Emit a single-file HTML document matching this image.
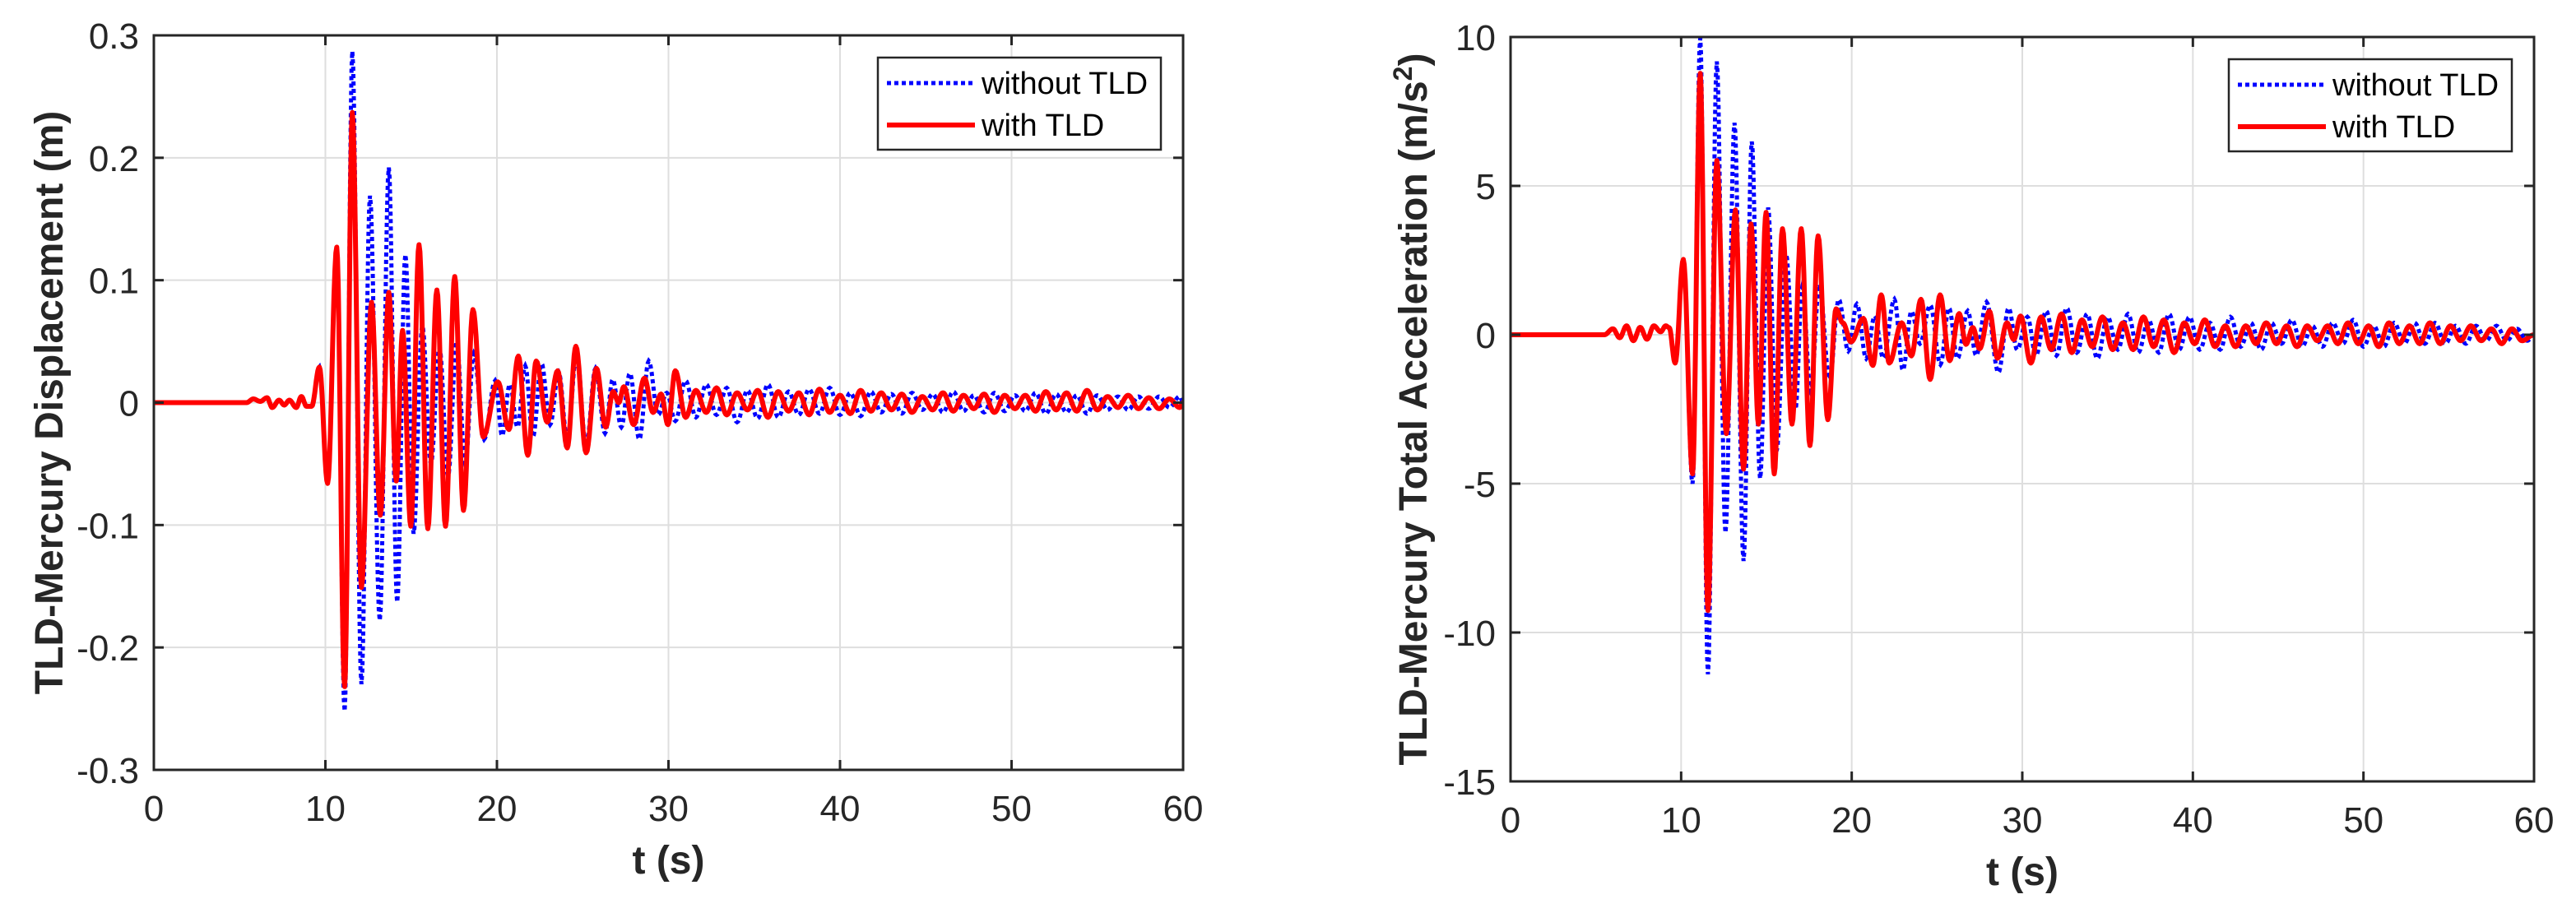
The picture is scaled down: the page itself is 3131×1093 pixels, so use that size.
<!DOCTYPE html>
<html><head><meta charset="utf-8">
<style>
html,body{margin:0;padding:0;background:#fff;}
svg{display:block;font-family:"Liberation Sans",Arial,sans-serif;}
</style></head>
<body>
<svg id="fig" width="3131" height="1093" viewBox="0 0 3131 1093" xmlns="http://www.w3.org/2000/svg"></svg>
<script>
// ---------- DATA: left panel (displacement, m) ----------
const leftXTicks = [0,10,20,30,40,50,60];
const leftYTicks = [-0.3,-0.2,-0.1,0,0.1,0.2,0.3];
const leftYTickLabels = ["-0.3","-0.2","-0.1","0","0.1","0.2","0.3"];
const leftRedT = [0,5.4,5.8,6.2,6.6,6.9,7.3,7.6,7.9,8.3,8.6,8.9,9.2,9.65,10.13,10.66,11.12,11.57,12.1,12.69,13.2,13.7,14.13,14.5,14.98,15.46,15.97,16.5,17.0,17.54,18.05,18.6,19.2,20.05,20.7,21.25,21.8,22.29,22.93,23.54,24.1,24.6,25.2,25.8,26.34,26.77,27.1,27.4,27.97,28.6,29.1,29.57,29.97,30.4];
const leftRedV = [0,0,0.003,0.001,0.004,-0.004,0.002,-0.002,0.002,-0.004,0.005,-0.003,-0.003,0.029,-0.066,0.127,-0.232,0.237,-0.151,0.082,-0.092,0.09,-0.064,0.059,-0.101,0.129,-0.103,0.092,-0.101,0.103,-0.088,0.076,-0.028,0.017,-0.022,0.038,-0.043,0.034,-0.016,0.026,-0.037,0.046,-0.041,0.028,-0.02,0.009,0,0.013,-0.018,0.02,-0.008,0.007,-0.018,0.026];
const leftRedTail = [-0.012,0.010,-0.008,0.012,-0.010,0.008,-0.006,0.010,-0.012,0.009,-0.007,0.008,-0.010,0.011,-0.008,0.006,-0.009,0.010,-0.007,0.008,-0.006,0.007,-0.008,0.005,-0.006,0.008,-0.007,0.006,-0.005,0.007,-0.008,0.006,-0.005,0.006,-0.007,0.009,-0.006,0.008,-0.007,0.010,-0.006,0.005,-0.004,0.006,-0.005,0.004,-0.005,0.003,-0.004,0.004];
const leftBlueT = [0,5.4,5.8,6.2,6.6,6.9,7.3,7.6,7.9,8.3,8.6,8.9,9.2,9.65,10.13,10.66,11.12,11.57,12.1,12.6,13.17,13.7,14.18,14.66,15.14,15.65,16.15,16.65,17.15,17.65,18.15,18.65,19.25,19.9,20.3,20.75,21.2,21.65,22.1,22.6,23.1,23.6,24.1,24.65,25.2,25.75,26.3,26.75,27.25,27.75,28.3,28.85,29.4,29.9,30.4];
const leftBlueV = [0,0,0.003,0.001,0.004,-0.004,0.002,-0.002,0.002,-0.004,0.005,-0.003,-0.003,0.029,-0.066,0.127,-0.252,0.287,-0.23,0.169,-0.178,0.192,-0.163,0.121,-0.107,0.063,-0.05,0.045,-0.06,0.05,-0.05,0.04,-0.03,0.018,-0.027,0.015,-0.02,0.03,-0.028,0.032,-0.018,0.025,-0.03,0.04,-0.035,0.028,-0.025,0.019,-0.02,0.024,-0.03,0.034,-0.01,0.008,-0.015];
const leftBlueTail = [0.018,-0.012,0.015,-0.010,0.012,-0.016,0.010,-0.013,0.015,-0.012,0.009,-0.010,0.011,-0.009,0.012,-0.010,0.008,-0.011,0.009,-0.008,0.007,-0.009,0.008,-0.006,0.007,-0.008,0.009,-0.007,0.006,-0.008,0.008,-0.007,0.006,-0.007,0.008,-0.009,0.007,-0.008,0.006,-0.009,0.006,-0.006,0.005,-0.006,0.005,-0.005,0.005,-0.004,0.005,-0.004];

// ---------- DATA: right panel (total acceleration, m/s^2) ----------
const rightXTicks = [0,10,20,30,40,50,60];
const rightYTicks = [-15,-10,-5,0,5,10];
const rightYTickLabels = ["-15","-10","-5","0","5","10"];
const rightRedT = [0,5.5,6.0,6.4,6.8,7.2,7.6,8.0,8.4,8.8,9.1,9.3,9.65,10.13,10.67,11.12,11.57,12.09,12.65,13.18,13.66,14.1,14.53,14.98,15.46,15.94,16.5,17.04,17.55,18.03,18.6,19.08,19.48,19.96,20.68,21.24,21.73,22.2,22.93,23.5,24.06,24.6,25.18,25.74,26.3,26.7,27.1,27.5,28.07,28.55,29.1,29.5,29.9,30.5];
const rightRedV = [0,0,0.2,-0.1,0.3,-0.2,0.25,-0.15,0.3,0.1,0.3,0.24,-0.95,2.53,-4.67,8.78,-9.26,5.85,-3.32,4.19,-4.51,3.72,-3.0,4.11,-4.67,3.56,-3.0,3.56,-3.72,3.32,-2.85,0.87,0.4,-0.24,0.55,-1.03,1.34,-0.95,0.4,-0.71,1.19,-1.5,1.34,-0.87,0.71,-0.32,0.24,-0.47,0.79,-0.79,0.4,-0.16,0.63,-0.95];
const rightRedTail = [0.6,-0.5,0.7,-0.6,0.5,-0.4,0.6,-0.5,0.4,-0.5,0.6,-0.4,0.5,-0.6,0.4,-0.3,0.5,-0.4,0.3,-0.4,0.3,-0.3,0.4,-0.3,0.3,-0.4,0.3,-0.2,0.3,-0.3,0.4,-0.3,0.3,-0.4,0.4,-0.3,0.3,-0.3,0.4,-0.3,0.3,-0.2,0.3,-0.2,0.2,-0.3,0.2,-0.2,0.2,-0.2];
const rightBlueT = [0,5.5,6.0,6.4,6.8,7.2,7.6,8.0,8.4,8.8,9.1,9.3,9.65,10.13,10.67,11.12,11.57,12.09,12.6,13.13,13.66,14.14,14.63,15.1,15.6,16.15,16.7,17.1,17.6,18.1,18.7,19.24,19.8,20.3,20.85,21.35,21.85,22.5,23.0,23.5,24.0,24.6,25.2,25.7,26.2,26.8,27.3,27.9,28.6,29.2,29.7,30.3,30.8];
const rightBlueV = [0,0,0.2,-0.1,0.3,-0.2,0.25,-0.15,0.3,0.1,0.3,0.24,-0.95,2.53,-5.0,9.97,-11.4,9.18,-6.65,7.12,-7.6,6.49,-4.83,4.27,-3.9,2.7,-2.5,1.6,-1.9,1.7,-1.5,1.19,-0.55,1.03,-0.8,0.63,-0.79,1.19,-1.19,0.79,-0.3,1.0,-1.0,0.9,-0.8,0.8,-0.7,1.1,-1.27,0.9,-0.5,0.6,-0.7];
const rightBlueTail = [0.8,-0.7,0.9,-0.6,0.7,-0.8,0.6,-0.5,0.7,-0.6,0.5,-0.6,0.7,-0.5,0.6,-0.5,0.4,-0.5,0.6,-0.4,0.4,-0.5,0.4,-0.3,0.5,-0.4,0.3,-0.4,0.4,-0.3,0.5,-0.4,0.3,-0.4,0.4,-0.3,0.4,-0.3,0.4,-0.3,0.3,-0.3,0.3,-0.2,0.3,-0.2,0.2,-0.2,0.2,-0.2];
const legendLabels = ["without TLD","with TLD"];

const NS = "http://www.w3.org/2000/svg";
const svg = document.getElementById('fig');
function mk(tag, attrs, parent){
  const e = document.createElementNS(NS, tag);
  for (const k in attrs) e.setAttribute(k, attrs[k]);
  (parent||svg).appendChild(e);
  return e;
}
function withTail(T, V, tail, start, step){
  const t = T.slice(), v = V.slice();
  for (let i=0;i<tail.length;i++){
    const tt = start+i*step;
    if (tt >= 59.9) break;
    t.push(tt); v.push(tail[i]);
  }
  t.push(60); v.push(0);
  return [t, v];
}
function pathFrom(T, V, sx, sy){
  let d = "M"+sx(T[0]).toFixed(1)+","+sy(V[0]).toFixed(1);
  for (let i=1;i<T.length;i++){
    const t0=T[i-1], t1=T[i], v0=V[i-1], v1=V[i];
    const n = 10;
    for (let k=1;k<=n;k++){
      const s=k/n, t=t0+(t1-t0)*s, v=v0+(v1-v0)*(1-Math.cos(Math.PI*s))/2;
      d += "L"+sx(t).toFixed(1)+","+sy(v).toFixed(1);
    }
  }
  return d;
}

function panel(cfg){
  const g = mk('g', {});
  
  
  const {x0,x1,y0,y1,ymin,ymax} = cfg;
  const sx = t => x0 + (t-0)/(60-0)*(x1-x0);
  const sy = v => y1 - (v-ymin)/(ymax-ymin)*(y1-y0);
  const grid = mk('g', {stroke:'#dedede','stroke-width':2}, g);
  
  
  cfg.xt.forEach(t=>{ mk('line',{x1:sx(t),x2:sx(t),y1:y0,y2:y1},grid); });
  cfg.yt.forEach(v=>{ mk('line',{x1:x0,x2:x1,y1:sy(v),y2:sy(v)},grid); });
  const clip = mk('clipPath',{id:cfg.name+'-clip'}, g);
  mk('rect',{x:x0,y:y0-4,width:x1-x0,height:y1-y0+8},clip);
  const b = withTail(cfg.blueT, cfg.blueV, cfg.blueTail, cfg.blueTailStart, 0.6);
  const r = withTail(cfg.redT, cfg.redV, cfg.redTail, cfg.redTailStart, 0.6);
  const bl = mk('path',{d:pathFrom(b[0],b[1],sx,sy),fill:'none',stroke:'#0000ff','stroke-width':5,'stroke-dasharray':'5 4','clip-path':'url(#'+cfg.name+'-clip)'}, g);
  
  
  const rl = mk('path',{d:pathFrom(r[0],r[1],sx,sy),fill:'none',stroke:'#ff0000','stroke-width':6,'stroke-linejoin':'round','clip-path':'url(#'+cfg.name+'-clip)'}, g);
  
  
  const ax = mk('g',{stroke:'#262626','stroke-width':3,fill:'none'}, g);
  
  
  mk('rect',{x:x0,y:y0,width:x1-x0,height:y1-y0},ax);
  cfg.xt.forEach(t=>{
    mk('line',{x1:sx(t),x2:sx(t),y1:y1,y2:y1-12},ax);
    mk('line',{x1:sx(t),x2:sx(t),y1:y0,y2:y0+12},ax);
  });
  cfg.yt.forEach(v=>{
    mk('line',{x1:x0,x2:x0+12,y1:sy(v),y2:sy(v)},ax);
    mk('line',{x1:x1,x2:x1-12,y1:sy(v),y2:sy(v)},ax);
  });
  cfg.xt.forEach(t=>{
    const e = mk('text',{x:sx(t),y:y1+62,'text-anchor':'middle','font-size':44,fill:'#262626'}, g);
    e.textContent = String(t);
    
    
  });
  cfg.yt.forEach((v,i)=>{
    const e = mk('text',{x:x0-18,y:sy(v)+16,'text-anchor':'end','font-size':44,fill:'#262626'}, g);
    e.textContent = cfg.ytl[i];
    
    
  });
  const xl = mk('text',{x:(x0+x1)/2,y:y1+126,'text-anchor':'middle','font-size':48,'font-weight':'bold',fill:'#262626'}, g);
  xl.textContent = 't (s)';
  
  
  const yl = mk('text',{x:0,y:0,'text-anchor':'middle','font-size':48,'font-weight':'bold',fill:'#262626',transform:'translate('+cfg.ylx+','+((y0+y1)/2)+') rotate(-90)'}, g);
  
  
  yl.textContent = cfg.ylabel;
  if (cfg.sup){
    const s1 = mk('tspan',{dy:-18,'font-size':32}, yl); s1.textContent='2';
    const s2 = mk('tspan',{dy:18}, yl); s2.textContent=')';
  }
  const lx = x1-27-344, ly = y0+27;
  const lg = mk('g',{}, g);
  
  
  mk('rect',{x:lx,y:ly,width:344,height:112,fill:'#fff',stroke:'#262626','stroke-width':2.5},lg);
  const e1 = mk('line',{x1:lx+11,x2:lx+118,y1:ly+31,y2:ly+31,stroke:'#0000ff','stroke-width':5,'stroke-dasharray':'5 4'},lg);
  
  
  const e2 = mk('line',{x1:lx+11,x2:lx+118,y1:ly+82,y2:ly+82,stroke:'#ff0000','stroke-width':6},lg);
  
  
  legendLabels.forEach((L,i)=>{
    const t = mk('text',{x:lx+126,y:ly+44+i*51,'font-size':38,fill:'#000'},lg);
    t.textContent = L;
    
    
  });
}

panel({name:'displacement-panel',x0:187,x1:1438,y0:43,y1:936,ymin:-0.3,ymax:0.3,
  xt:leftXTicks,yt:leftYTicks,ytl:leftYTickLabels,ylx:76,
  ylabel:'TLD-Mercury Displacement (m)',sup:false,
  redT:leftRedT,redV:leftRedV,redTail:leftRedTail,redTailStart:31.0,
  blueT:leftBlueT,blueV:leftBlueV,blueTail:leftBlueTail,blueTailStart:31.0});
panel({name:'acceleration-panel',x0:1836,x1:3080,y0:45,y1:950,ymin:-15,ymax:10,
  xt:rightXTicks,yt:rightYTicks,ytl:rightYTickLabels,ylx:1734,
  ylabel:'TLD-Mercury Total Acceleration (m/s',sup:true,
  redT:rightRedT,redV:rightRedV,redTail:rightRedTail,redTailStart:31.1,
  blueT:rightBlueT,blueV:rightBlueV,blueTail:rightBlueTail,blueTailStart:31.4});
</script>
</body></html>
